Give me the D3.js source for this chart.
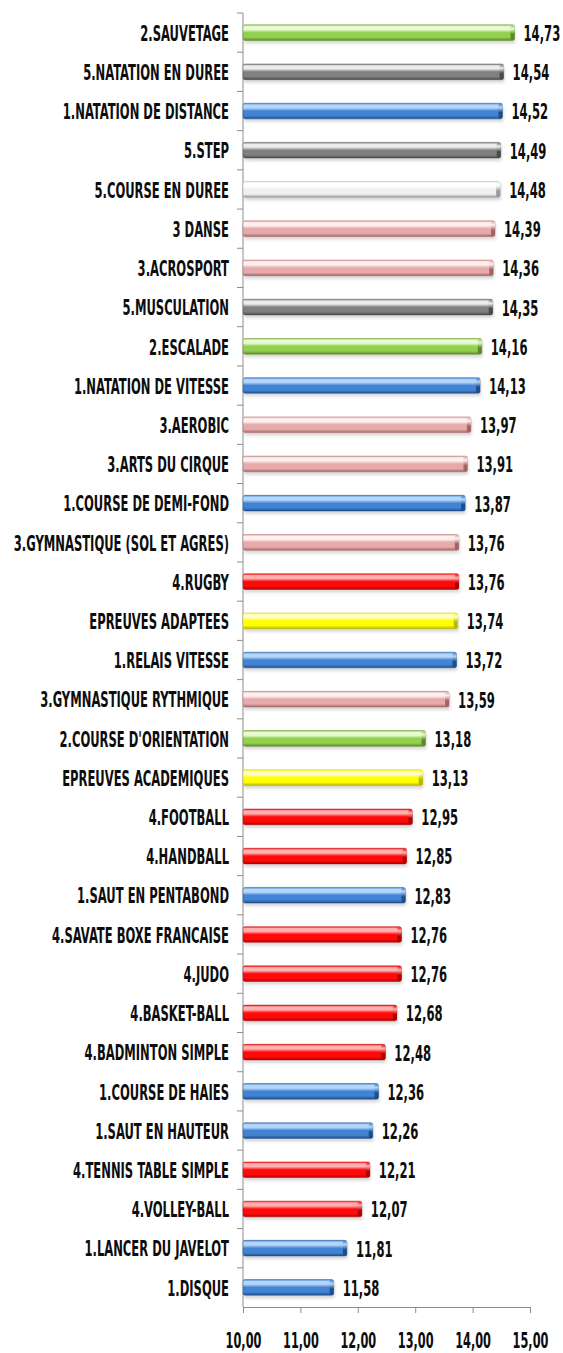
<!DOCTYPE html>
<html lang="fr">
<head>
    <meta charset="UTF-8">
    <title>moyennes par activite</title>
    <script src="https://cdn.jsdelivr.net/npm/d3@7"></script>
    <style>
        body{ margin:0; background:#fff; }
        svg{ display:block; }
        text{ font-family:"DejaVu Sans Condensed","DejaVu Sans",sans-serif; font-weight:bold; fill:#0d0d0d; }
    </style>
</head>
<body>
</body>
<script type="text/javascript">

    let categories = ["2.SAUVETAGE","5.NATATION EN DUREE","1.NATATION DE DISTANCE","5.STEP","5.COURSE EN DUREE",
        "3 DANSE","3.ACROSPORT","5.MUSCULATION","2.ESCALADE","1.NATATION DE VITESSE","3.AEROBIC",
        "3.ARTS DU CIRQUE","1.COURSE DE DEMI-FOND","3.GYMNASTIQUE (SOL ET AGRES)","4.RUGBY","EPREUVES ADAPTEES",
        "1.RELAIS VITESSE","3.GYMNASTIQUE RYTHMIQUE","2.COURSE D'ORIENTATION","EPREUVES ACADEMIQUES","4.FOOTBALL",
        "4.HANDBALL","1.SAUT EN PENTABOND","4.SAVATE BOXE FRANCAISE","4.JUDO","4.BASKET-BALL","4.BADMINTON SIMPLE",
        "1.COURSE DE HAIES","1.SAUT EN HAUTEUR","4.TENNIS TABLE SIMPLE","4.VOLLEY-BALL","1.LANCER DU JAVELOT","1.DISQUE"];

    let values = [14.73,14.54,14.52,14.49,14.48,14.39,14.36,14.35,14.16,14.13,13.97,
        13.91,13.87,13.76,13.76,13.74,13.72,13.59,13.18,13.13,12.95,
        12.85,12.83,12.76,12.76,12.68,12.48,12.36,12.26,12.21,12.07,11.81,11.58];

    // couleur de la famille d'activite
    let groups = ["green","grey","blue","grey","white","pink","pink","grey","green","blue","pink",
        "pink","blue","pink","red","yellow","blue","pink","green","yellow","red",
        "red","blue","red","red","red","red","blue","blue","red","red","blue","blue"];

    let xTicks = [10,11,12,13,14,15];

    let palette = {
        green: {light:"#eafad2", base:"#92d050", dark:"#5c8a26"},
        grey:  {light:"#ececec", base:"#808080", dark:"#4a4a4a"},
        blue:  {light:"#b4d6fa", base:"#4283d2", dark:"#1d4d8c"},
        pink:  {light:"#fff0f0", base:"#e6aaaa", dark:"#a46464"},
        red:   {light:"#ffb0b0", base:"#ff0a0a", dark:"#b00000"},
        yellow:{light:"#ffffc8", base:"#ffff00", dark:"#b8b800"},
        white: {light:"#ffffff", base:"#f0f0f0", dark:"#9a9a9a"}
    };

    let data = categories.map((c,i)=>({name:c, value:values[i], group:groups[i]}));

    let width = 563;
    let height = 1353;
    let yTop = 13, yBottom = 1307;
    let x0 = 243, x1 = 530;

    let svg = d3.select("body")
        .append("svg")
        .attr("width",width)
        .attr("height",height);

    let defs = svg.append("defs");
    Object.keys(palette).forEach(k=>{
        let p = palette[k];
        let g = defs.append("linearGradient")
            .attr("id","grad-"+k)
            .attr("x1",0).attr("y1",0).attr("x2",0).attr("y2",1);
        [[0,p.base],[0.12,p.light],[0.3,p.light],[0.5,p.base],[0.8,p.base],[1,p.dark]]
            .forEach(s=>g.append("stop").attr("offset",s[0]).attr("stop-color",s[1]));
        let e = defs.append("linearGradient")
            .attr("id","end-"+k)
            .attr("x1",0).attr("y1",0).attr("x2",0).attr("y2",1);
        [[0,p.base],[0.25,p.light],[0.6,p.dark],[1,p.dark]]
            .forEach(s=>e.append("stop").attr("offset",s[0]).attr("stop-color",s[1]));
    });
    let blur = defs.append("filter").attr("id","shadow")
        .attr("x","-5%").attr("y","-50%").attr("width","110%").attr("height","200%");
    blur.append("feGaussianBlur").attr("stdDeviation",1.6);

    let x = d3.scaleLinear()
        .domain([10,15])
        .range([x0,x1]);

    let y = d3.scaleBand()
        .domain(categories)
        .range([yTop,yBottom])
        .paddingInner(0.6)
        .paddingOuter(0.3);

    let step = y.step();

    // axe des ordonnees
    let axisColor = "#8c8c8c";
    svg.append("line")
        .attr("x1",x0).attr("x2",x0)
        .attr("y1",yTop).attr("y2",yBottom)
        .attr("stroke",axisColor).attr("stroke-width",1);
    svg.append("g").selectAll("line")
        .data(d3.range(categories.length))
        .join("line")
        .attr("x1",x0-6).attr("x2",x0)
        .attr("y1",i=>yTop+i*step).attr("y2",i=>yTop+i*step)
        .attr("stroke",axisColor);

    // axe des abscisses
    let xAxis = d3.axisBottom(x)
        .tickValues(xTicks)
        .tickSize(6)
        .tickFormat(d=>d3.format(".2f")(d).replace(".",","));
    let xAxisGroup = svg.append("g")
        .attr("transform",`translate(0,${yBottom})`)
        .call(xAxis);
    xAxisGroup.select(".domain").attr("stroke",axisColor);
    xAxisGroup.selectAll(".tick line").attr("stroke",axisColor);
    xAxisGroup.selectAll(".tick text")
        .attr("y",0).attr("dy",0)
        .attr("font-size",17)
        .attr("fill","#0d0d0d")
        .attr("transform","translate(0,41) scale(0.74,1.21)");

    let bars = svg.append("g").selectAll("g")
        .data(data)
        .join("g");

    let bw = y.bandwidth();

    // ombre
    bars.append("rect")
        .attr("x",x0+1)
        .attr("y",d=>y(d.name)+3)
        .attr("width",d=>x(d.value)-x0)
        .attr("height",bw)
        .attr("rx",2)
        .attr("fill","#bdbdbd")
        .attr("opacity",0.6)
        .attr("filter","url(#shadow)");

    bars.append("rect")
        .attr("x",x0)
        .attr("y",d=>y(d.name))
        .attr("width",d=>x(d.value)-x0)
        .attr("height",bw)
        .attr("rx",2)
        .attr("fill",d=>`url(#grad-${d.group})`)
        .attr("stroke",d=>palette[d.group].dark)
        .attr("stroke-opacity",0.55)
        .attr("stroke-width",0.8);

    // bout du cylindre
    bars.append("rect")
        .attr("x",d=>x(d.value)-4)
        .attr("y",d=>y(d.name)+0.5)
        .attr("width",4)
        .attr("height",bw-1)
        .attr("rx",1.5)
        .attr("fill",d=>`url(#end-${d.group})`);

    // libelles
    bars.append("text")
        .attr("transform",d=>`translate(229,${y(d.name)+bw/2+0.5}) scale(0.83,1.38)`)
        .attr("dy","0.36em")
        .attr("text-anchor","end")
        .attr("font-size",15.5)
        .text(d=>d.name);

    // valeurs
    bars.append("text")
        .attr("transform",d=>`translate(${x(d.value)+9},${y(d.name)+bw/2+1}) scale(0.76,1.21)`)
        .attr("dy","0.36em")
        .attr("font-size",17)
        .text(d=>d3.format(".2f")(d.value).replace(".",","));
</script>
</html>
